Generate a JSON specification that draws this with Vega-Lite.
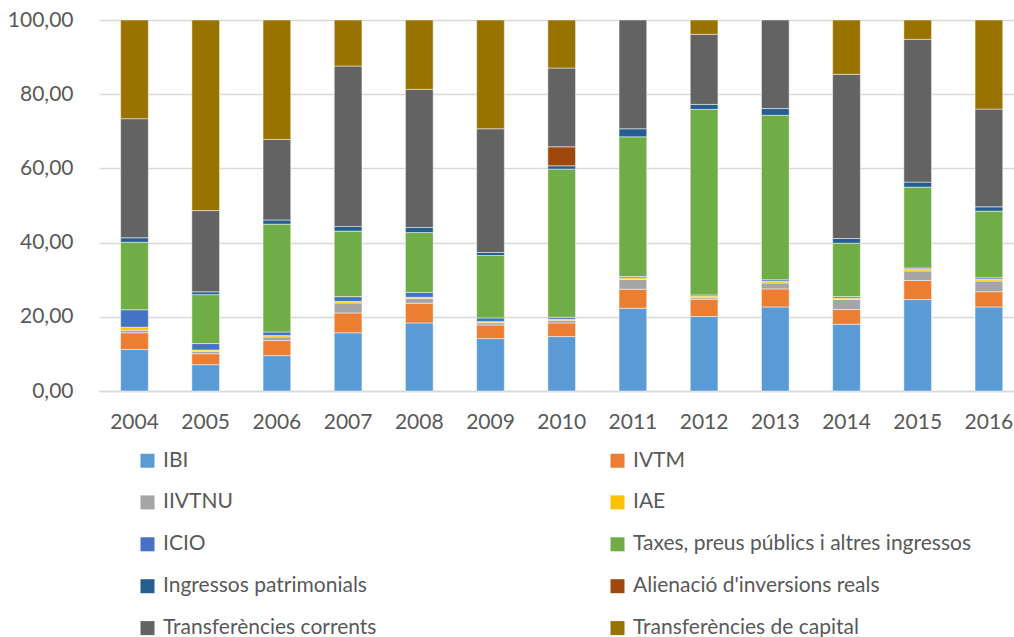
{
  "$schema": "https://vega.github.io/schema/vega-lite/v6.json",
  "width": 915,
  "height": 371,
  "autosize": {"type": "none"},
  "padding": {"left": 99, "top": 20, "right": 0, "bottom": 246},
  "background": "white",
  "data": {"values": [
    {"y":"2004","s":"IBI","n":1,"v":11.2},{"y":"2004","s":"IVTM","n":2,"v":4.5},{"y":"2004","s":"IIVTNU","n":3,"v":0.7},{"y":"2004","s":"IAE","n":4,"v":0.8},{"y":"2004","s":"ICIO","n":5,"v":4.7},{"y":"2004","s":"Taxes, preus públics i altres ingressos","n":6,"v":18.2},{"y":"2004","s":"Ingressos patrimonials","n":7,"v":1.2},{"y":"2004","s":"Transferències corrents","n":9,"v":32.1},{"y":"2004","s":"Transferències de capital","n":10,"v":26.6},
    {"y":"2005","s":"IBI","n":1,"v":7.1},{"y":"2005","s":"IVTM","n":2,"v":2.95},{"y":"2005","s":"IIVTNU","n":3,"v":0.65},{"y":"2005","s":"IAE","n":4,"v":0.36},{"y":"2005","s":"ICIO","n":5,"v":1.72},{"y":"2005","s":"Taxes, preus públics i altres ingressos","n":6,"v":13.2},{"y":"2005","s":"Ingressos patrimonials","n":7,"v":0.75},{"y":"2005","s":"Transferències corrents","n":9,"v":21.9},{"y":"2005","s":"Transferències de capital","n":10,"v":51.37},
    {"y":"2006","s":"IBI","n":1,"v":9.54},{"y":"2006","s":"IVTM","n":2,"v":4.06},{"y":"2006","s":"IIVTNU","n":3,"v":0.97},{"y":"2006","s":"IAE","n":4,"v":0.37},{"y":"2006","s":"ICIO","n":5,"v":0.98},{"y":"2006","s":"Taxes, preus públics i altres ingressos","n":6,"v":29.05},{"y":"2006","s":"Ingressos patrimonials","n":7,"v":1.13},{"y":"2006","s":"Transferències corrents","n":9,"v":21.7},{"y":"2006","s":"Transferències de capital","n":10,"v":32.2},
    {"y":"2007","s":"IBI","n":1,"v":15.7},{"y":"2007","s":"IVTM","n":2,"v":5.34},{"y":"2007","s":"IIVTNU","n":3,"v":2.7},{"y":"2007","s":"IAE","n":4,"v":0.4},{"y":"2007","s":"ICIO","n":5,"v":1.3},{"y":"2007","s":"Taxes, preus públics i altres ingressos","n":6,"v":17.65},{"y":"2007","s":"Ingressos patrimonials","n":7,"v":1.27},{"y":"2007","s":"Transferències corrents","n":9,"v":43.24},{"y":"2007","s":"Transferències de capital","n":10,"v":12.4},
    {"y":"2008","s":"IBI","n":1,"v":18.35},{"y":"2008","s":"IVTM","n":2,"v":5.31},{"y":"2008","s":"IIVTNU","n":3,"v":1.3},{"y":"2008","s":"IAE","n":4,"v":0.3},{"y":"2008","s":"ICIO","n":5,"v":1.3},{"y":"2008","s":"Taxes, preus públics i altres ingressos","n":6,"v":16.15},{"y":"2008","s":"Ingressos patrimonials","n":7,"v":1.37},{"y":"2008","s":"Transferències corrents","n":9,"v":37.22},{"y":"2008","s":"Transferències de capital","n":10,"v":18.7},
    {"y":"2009","s":"IBI","n":1,"v":14.13},{"y":"2009","s":"IVTM","n":2,"v":3.67},{"y":"2009","s":"IIVTNU","n":3,"v":0.6},{"y":"2009","s":"IAE","n":4,"v":0.3},{"y":"2009","s":"ICIO","n":5,"v":1.0},{"y":"2009","s":"Taxes, preus públics i altres ingressos","n":6,"v":16.82},{"y":"2009","s":"Ingressos patrimonials","n":7,"v":0.81},{"y":"2009","s":"Transferències corrents","n":9,"v":33.35},{"y":"2009","s":"Transferències de capital","n":10,"v":29.32},
    {"y":"2010","s":"IBI","n":1,"v":14.67},{"y":"2010","s":"IVTM","n":2,"v":3.68},{"y":"2010","s":"IIVTNU","n":3,"v":0.72},{"y":"2010","s":"IAE","n":4,"v":0.27},{"y":"2010","s":"ICIO","n":5,"v":0.54},{"y":"2010","s":"Taxes, preus públics i altres ingressos","n":6,"v":39.92},{"y":"2010","s":"Ingressos patrimonials","n":7,"v":0.9},{"y":"2010","s":"Alienació d'inversions reals","n":8,"v":5.12},{"y":"2010","s":"Transferències corrents","n":9,"v":21.23},{"y":"2010","s":"Transferències de capital","n":10,"v":12.95},
    {"y":"2011","s":"IBI","n":1,"v":22.31},{"y":"2011","s":"IVTM","n":2,"v":5.12},{"y":"2011","s":"IIVTNU","n":3,"v":2.62},{"y":"2011","s":"IAE","n":4,"v":0.44},{"y":"2011","s":"ICIO","n":5,"v":0.36},{"y":"2011","s":"Taxes, preus públics i altres ingressos","n":6,"v":37.67},{"y":"2011","s":"Ingressos patrimonials","n":7,"v":2.16},{"y":"2011","s":"Transferències corrents","n":9,"v":29.32},
    {"y":"2012","s":"IBI","n":1,"v":20.07},{"y":"2012","s":"IVTM","n":2,"v":4.63},{"y":"2012","s":"IIVTNU","n":3,"v":0.45},{"y":"2012","s":"IAE","n":4,"v":0.45},{"y":"2012","s":"ICIO","n":5,"v":0.3},{"y":"2012","s":"Taxes, preus públics i altres ingressos","n":6,"v":50.0},{"y":"2012","s":"Ingressos patrimonials","n":7,"v":1.36},{"y":"2012","s":"Transferències corrents","n":9,"v":18.88},{"y":"2012","s":"Transferències de capital","n":10,"v":3.86},
    {"y":"2013","s":"IBI","n":1,"v":22.66},{"y":"2013","s":"IVTM","n":2,"v":4.86},{"y":"2013","s":"IIVTNU","n":3,"v":1.6},{"y":"2013","s":"IAE","n":4,"v":0.4},{"y":"2013","s":"ICIO","n":5,"v":0.45},{"y":"2013","s":"Taxes, preus públics i altres ingressos","n":6,"v":44.35},{"y":"2013","s":"Ingressos patrimonials","n":7,"v":1.81},{"y":"2013","s":"Transferències corrents","n":9,"v":23.87},
    {"y":"2014","s":"IBI","n":1,"v":18.0},{"y":"2014","s":"IVTM","n":2,"v":3.96},{"y":"2014","s":"IIVTNU","n":3,"v":2.74},{"y":"2014","s":"IAE","n":4,"v":0.35},{"y":"2014","s":"ICIO","n":5,"v":0.4},{"y":"2014","s":"Taxes, preus públics i altres ingressos","n":6,"v":14.38},{"y":"2014","s":"Ingressos patrimonials","n":7,"v":1.27},{"y":"2014","s":"Transferències corrents","n":9,"v":44.25},{"y":"2014","s":"Transferències de capital","n":10,"v":14.65},
    {"y":"2015","s":"IBI","n":1,"v":24.65},{"y":"2015","s":"IVTM","n":2,"v":5.13},{"y":"2015","s":"IIVTNU","n":3,"v":2.59},{"y":"2015","s":"IAE","n":4,"v":0.54},{"y":"2015","s":"ICIO","n":5,"v":0.25},{"y":"2015","s":"Taxes, preus públics i altres ingressos","n":6,"v":21.79},{"y":"2015","s":"Ingressos patrimonials","n":7,"v":1.35},{"y":"2015","s":"Transferències corrents","n":9,"v":38.49},{"y":"2015","s":"Transferències de capital","n":10,"v":5.21},
    {"y":"2016","s":"IBI","n":1,"v":22.66},{"y":"2016","s":"IVTM","n":2,"v":4.1},{"y":"2016","s":"IIVTNU","n":3,"v":2.9},{"y":"2016","s":"IAE","n":4,"v":0.46},{"y":"2016","s":"ICIO","n":5,"v":0.4},{"y":"2016","s":"Taxes, preus públics i altres ingressos","n":6,"v":17.96},{"y":"2016","s":"Ingressos patrimonials","n":7,"v":1.16},{"y":"2016","s":"Transferències corrents","n":9,"v":26.35},{"y":"2016","s":"Transferències de capital","n":10,"v":24.01}
  ]},
  "mark": {"type": "bar", "stroke": "#ffffff", "strokeWidth": 0.8, "strokeOpacity": 0.6},
  "encoding": {
    "x": {
      "field": "y", "type": "ordinal", "title": null,
      "scale": {"paddingInner": 0.611, "paddingOuter": 0.231, "align": 0.658},
      "axis": {"labelAngle": 0, "ticks": false, "domainColor": "#d9d9d9", "domainWidth": 1.5, "labelFont": "Lato", "labelFontSize": 21, "labelColor": "#595959", "labelPadding": 20}
    },
    "y": {
      "field": "v", "type": "quantitative", "stack": "zero", "title": null,
      "scale": {"domain": [0, 100], "nice": false},
      "axis": {"values": [0, 20, 40, 60, 80, 100], "labelExpr": "replace(format(datum.value, '.2f'), '.', ',')", "domain": false, "ticks": false, "gridColor": "#d9d9d9", "gridWidth": 1.5, "labelFont": "Lato", "labelFontSize": 21, "labelColor": "#595959", "labelPadding": 26}
    },
    "color": {
      "field": "s", "type": "nominal", "title": null,
      "scale": {
        "domain": ["IBI", "IVTM", "IIVTNU", "IAE", "ICIO", "Taxes, preus públics i altres ingressos", "Ingressos patrimonials", "Alienació d'inversions reals", "Transferències corrents", "Transferències de capital"],
        "range": ["#5B9BD5", "#ED7D31", "#A5A5A5", "#FFC000", "#4472C4", "#70AD47", "#255E91", "#9E480E", "#636363", "#997300"]
      },
      "legend": {
        "orient": "none", "legendX": 38, "legendY": 430, "columns": 2, "direction": "horizontal",
        "symbolType": "square", "symbolSize": 196, "symbolStrokeWidth": 0,
        "labelFont": "Lato", "labelFontSize": 21, "labelColor": "#595959", "labelOffset": 5, "labelLimit": 500,
        "rowPadding": 19.9, "columnPadding": 230
      }
    },
    "order": {"field": "n", "type": "quantitative", "sort": "ascending"}
  },
  "config": {"view": {"stroke": null}}
}
